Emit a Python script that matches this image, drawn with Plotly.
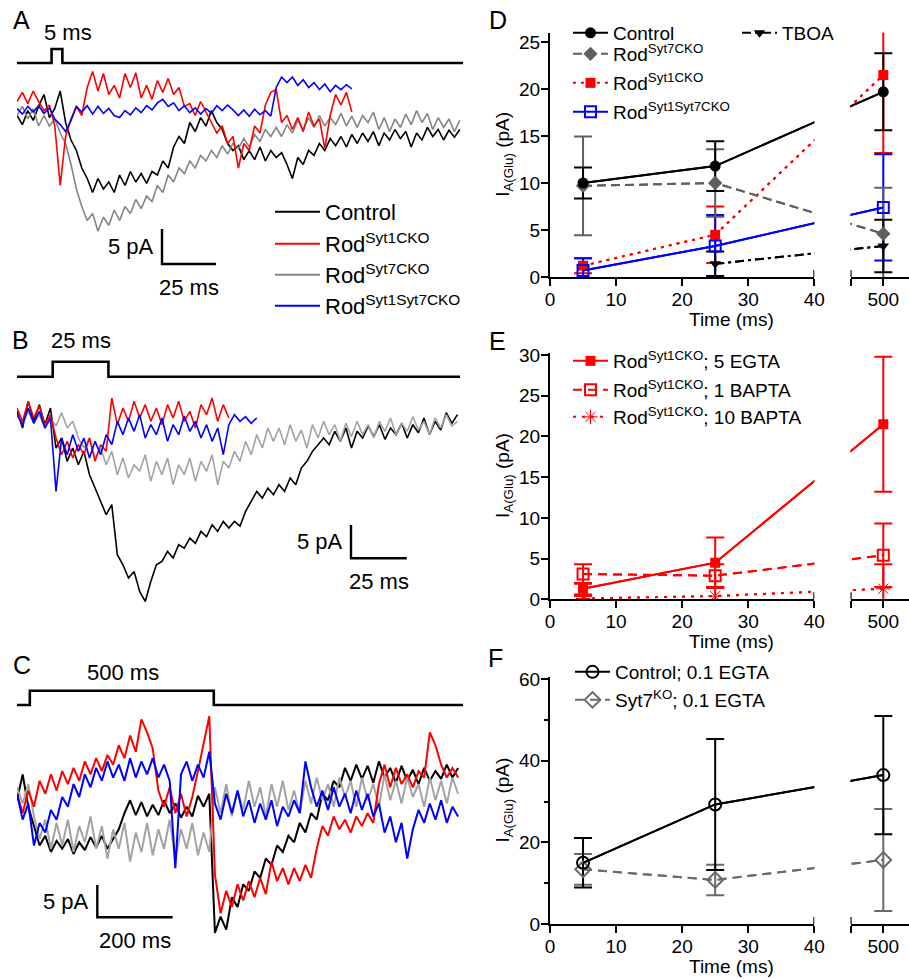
import plotly.graph_objects as go

W, H = 909, 979
FONT = "Liberation Sans, Arial, Helvetica, sans-serif"


def vals(s):
    return [float(v) for v in s.split()]


# ---------------- Panel A: 5 ms step, currents (pA) sampled every 2.5 ms
A_DT = 2.5
A_control = vals("""
-0.5 -1.8 0.2 -1.2 0.8 2.5 -0.8 0.5 3.0 -1.5 -4.0 -5.5 -8.0 -9.5 -11.5 -9.5 -11.0 -10.0 -11.5 -9.0
-10.5 -8.5 -10.0 -8.8 -10.2 -8.5 -9.0 -7.0 -8.0 -5.0 -3.5 -4.5 -1.5 -2.8 -0.8 -2.0 0.2 -1.5 -2.5 -4.5
-5.5 -4.8 -6.8 -5.5 -6.8 -5.0 -7.0 -5.5 -6.5 -5.8 -7.5 -9.5 -6.5 -7.5 -5.5 -6.2 -4.5 -5.5 -3.8 -4.8
-3.5 -5.0 -3.2 -4.5 -3.0 -4.2 -2.8 -4.8 -3.0 -4.0 -2.5 -3.8 -2.8 -5.0 -3.0 -4.0 -2.2 -3.5 -2.5 -4.0
-2.6 -3.6 -2.5
""")
A_syt7 = vals("""
-0.5 0.8 -1.0 0.5 -2.0 -0.5 -2.0 -1.0 -3.0 -4.5 -7.5 -11.0 -13.5 -15.5 -14.5 -17.0 -15.0 -16.2 -14.0 -15.5
-13.5 -14.5 -12.5 -13.8 -12.0 -12.8 -10.5 -11.5 -9.0 -10.0 -8.0 -8.8 -7.0 -8.0 -6.2 -7.0 -5.5 -6.5 -4.8 -6.0
-4.5 -5.2 -3.8 -5.0 -3.2 -4.2 -2.5 -3.5 -2.2 -3.5 -1.8 -3.0 -1.2 -2.5 -0.8 -2.2 -0.5 -2.0 -0.8 -1.8
-0.2 -2.0 -0.6 -2.2 -0.5 -1.5 0.0 -2.5 -0.8 -2.8 -1.0 -2.2 -0.3 -1.8 0.2 -1.5 -0.2 -2.5 -0.8 -2.2
-1.0 -2.8 -1.2
""")
A_syt1 = vals("""
1.5 2.8 1.2 3.0 1.5 0.2 1.0 -2.0 -10.5 -3.5 -1.0 0.8 -0.5 3.5 5.8 3.0 5.5 2.5 3.8 2.0
5.5 3.5 5.6 2.0 3.8 1.8 4.5 2.8 4.8 2.5 3.5 0.8 1.2 -0.5 1.5 0.0 -1.5 -3.0 -2.0 -4.5
-3.5 -8.0 -4.5 -5.5 -2.0 -3.0 1.0 2.8 3.2 -1.5 -0.5 -2.5 -0.8 -2.8 0.0 -2.0 -1.0 -5.2 -0.5 2.5
1.0 2.8 0.0
""")
A_syt17 = vals("""
0.5 -0.3 0.8 0.0 0.9 -0.2 0.6 -1.0 -1.8 -2.8 -1.2 0.8 0.0 0.9 -0.3 0.8 -0.2 0.5 -0.5 -0.8
0.2 -0.4 0.6 -0.1 0.9 0.3 1.3 1.8 0.8 1.3 0.2 0.9 -0.1 0.6 -0.3 0.5 -0.2 0.9 0.2 1.0
0.3 -0.5 0.3 -0.6 0.4 -0.4 0.2 -0.6 3.5 5.0 4.2 5.0 3.8 4.6 3.5 4.2 3.2 4.0 2.9 3.8
3.2 3.9 3.3
""")

# ---------------- Panel B: 25 ms step, sampled every 2.5 ms
B_DT = 2.5
B_control = vals("""
1.0 -1.5 2.5 -0.5 2.0 -1.0 1.5 -4.5 -3.0 -6.5 -4.5 -7.0 -5.0 -8.5 -10.5 -12.5 -14.5 -13.0 -20.5 -22.0
-24.0 -23.0 -26.0 -27.5 -24.5 -22.0 -21.5 -20.0 -21.0 -19.0 -19.5 -18.0 -18.8 -17.0 -17.8 -16.0 -17.0 -15.5 -16.5 -15.5
-16.2 -14.0 -12.5 -11.0 -12.0 -10.5 -11.5 -10.0 -11.0 -9.0 -10.0 -7.5 -6.5 -5.0 -4.0 -3.0 -4.0 -2.0 -3.5 -1.5
-4.5 -2.0 -3.0 -1.2 -2.8 -1.0 -3.2 -1.5 -2.5 -0.8 -3.0 -1.0 -2.2 0.0 -2.5 -0.5 -1.8 0.8 -0.8 0.5
""")
B_syt7 = vals("""
0.5 -1.0 1.0 -0.8 0.5 -1.5 0.0 -1.2 0.8 -1.5 -0.5 -3.0 -4.5 -3.0 -6.0 -4.5 -7.0 -5.0 -8.5 -6.0
-9.0 -7.0 -8.0 -5.5 -9.5 -6.5 -8.5 -6.0 -10.0 -7.0 -8.5 -6.0 -9.5 -6.5 -8.0 -5.5 -10.0 -6.5 -7.5 -5.0
-6.5 -3.5 -5.5 -2.5 -4.5 -1.5 -3.5 -1.5 -4.0 -1.0 -3.5 -1.8 -4.5 -1.0 -3.0 -0.5 -2.5 -1.0 -3.5 -0.8
-2.8 -0.5 -2.5 -1.0 -3.0 -0.5 -2.0 0.0 -2.5 -0.8 -2.0 0.2 -1.8 -0.5 -2.5 0.0 -1.5 0.5 -1.2 -0.5
""")
B_syt1 = vals("""
1.5 -0.5 2.5 0.0 1.8 -1.0 0.5 -3.0 -5.5 -3.5 -6.0 -4.0 -5.5 -3.0 -6.5 -4.0 -5.0 3.0 -1.0 1.5
-0.5 2.5 0.0 2.0 -0.5 1.5 -1.0 2.0 0.0 2.5 -0.5 1.0 -1.5 2.0 0.5 3.0 -0.5 2.0 0.0
""")
B_syt17 = vals("""
0.5 -1.0 1.5 -0.8 1.0 -1.5 0.0 -11.0 -3.0 -5.5 -2.5 -5.0 -3.0 -6.0 -3.5 -5.5 -2.5 -4.0 -0.5 -2.5
0.0 -2.0 0.5 -3.0 -1.0 -2.5 0.0 -3.5 -1.0 -2.5 0.3 -2.0 -0.5 -3.0 -1.0 -3.5 -1.5 -5.5 -1.0 0.5
-0.5 0.2 -0.8 0.0
""")

# ---------------- Panel C: 500 ms step, sampled every 15 ms
C_DT = 15.0
C_control = vals("""
-0.5 3.5 -1.5 -4.5 -7.5 -6.0 -8.5 -6.8 -8.0 -6.5 -8.8 -7.0 -8.2 -6.2 -7.8 -6.0 -8.0 -6.5 -5.0 -2.5
-0.5 -2.8 -0.8 -3.0 -1.2 -2.8 -0.5 -2.5 -1.0 -3.2 -1.5 -3.0 0.2 -1.5 0.5 -21.0 -18.5 -20.5 -15.5 -17.0
-13.5 -14.5 -11.5 -12.5 -9.5 -10.5 -7.5 -8.5 -6.0 -7.0 -4.0 -5.5 -2.5 -3.5 0.5 -0.5 2.5 1.5 4.5 2.5
5.0 2.8 4.8 2.2 5.5 3.0 4.5 2.2 4.8 2.5 4.2 2.0 4.5 2.5 4.0 2.8 5.0 3.0 4.5
""")
C_syt1 = vals("""
0.5 -2.5 1.0 -1.5 2.5 0.5 3.5 1.0 4.0 2.0 4.5 2.5 5.5 3.5 6.0 4.0 6.5 5.0 8.0 6.0
9.5 7.0 12.0 10.0 7.5 1.0 -1.5 1.5 -2.5 0.5 -3.0 0.0 4.0 8.5 12.5 -12.0 -18.0 -14.5 -17.0 -13.5
-16.0 -13.0 -15.5 -12.5 -15.0 -10.0 -13.0 -11.0 -13.5 -11.0 -13.0 -10.5 -12.5 -8.0 -4.5 -6.0 -3.0 -5.0 -3.5 -5.5
-3.0 -4.5 -2.5 -4.0 2.0 5.0 1.5 4.5 2.0 3.5 1.5 4.0 3.0 10.0 8.0 5.0 3.0 4.5 3.0
""")
C_syt17 = vals("""
0.5 -3.5 -1.0 -7.5 -4.0 -5.5 -2.0 -3.5 0.0 -1.5 2.0 0.0 3.5 1.5 4.5 2.5 5.5 3.0 5.0 2.5
6.0 3.0 5.5 3.5 6.0 3.0 5.0 2.5 -11.0 3.5 5.5 2.5 5.0 3.0 7.0 -1.0 -3.5 0.5 -2.5 1.0
-3.0 -0.5 -4.0 -1.0 -3.5 -0.5 -4.5 -1.5 -3.0 -0.5 -2.5 5.5 1.5 -1.5 1.0 -2.0 1.5 -1.5 0.5 -2.5
1.0 -2.0 0.5 -3.0 -1.0 -5.5 -3.0 -7.0 -4.0 -9.5 -5.0 -2.0 -4.0 -1.0 -3.5 -0.5 -4.0 -1.5 -3.0
""")
C_syt7 = vals("""
1.5 -1.0 2.0 -3.0 -6.5 -3.5 -8.0 -4.0 -7.5 -3.5 -8.5 -4.5 -7.0 -3.0 -8.0 -4.5 -9.5 -5.0 -8.0 -4.0
-10.0 -5.5 -8.5 -4.0 -9.0 -5.0 -8.0 -3.5 -9.5 -5.0 -8.0 -4.0 -9.0 -5.5 -8.5 1.5 -2.5 2.0 -3.0 1.0
-2.0 2.5 -1.5 1.5 -3.0 2.0 -1.5 2.5 -2.0 1.0 -2.5 2.5 -1.0 3.0 -0.5 2.0 -1.5 3.0 0.0 2.5
-1.5 3.0 -0.5 2.0 -1.5 3.5 -0.5 2.5 -1.0 3.0 0.0 2.0 -1.5 3.0 -0.5 2.5 -1.0 3.0 0.5
""")

# stimulus steps: (onset ms, duration ms), labels
STIM = {"A": (16, 5, "5 ms"), "B": (16, 25, "25 ms"), "C": (34, 488, "500 ms")}
# scale bars (ms, pA)
SCALE = {"A": (25, 5, "25 ms", "5 pA"), "B": (25, 5, "25 ms", "5 pA"), "C": (200, 5, "200 ms", "5 pA")}

# ---------------- Panel D: amplitude vs step duration
D_time = [5, 25, 500]
D_control = [10.0, 11.8, 19.7]
D_control_err = [1.65, 2.65, 4.1]
D_syt7 = [9.7, 10.0, 4.6]
D_syt7_err = [5.25, 3.6, 4.9]
D_syt1 = [1.2, 4.5, 21.5]
D_syt1_err = [0.8, 3.0, 8.3]
D_syt17 = [0.7, 3.3, 7.4]
D_syt17_err = [1.3, 3.3, 5.65]
D_tboa_time = [25, 500]
D_tboa = [1.4, 3.3]
D_tboa_err = [1.3, 2.8]

# ---------------- Panel E
E_time = [5, 25, 500]
E_egta5 = [1.3, 4.5, 21.5]
E_egta5_err = [0.7, 3.1, 8.3]
E_bapta1 = [3.1, 2.9, 5.4]
E_bapta1_err = [1.2, 1.4, 3.9]
E_bapta10 = [0.1, 0.4, 1.3]
E_bapta10_err = [0.3, 1.1, 3.0]

# ---------------- Panel F
F_time = [5, 25, 500]
F_control = [15.0, 29.3, 36.5]
F_control_err = [6.05, 16.05, 14.5]
F_syt7 = [13.4, 10.8, 15.7]
F_syt7_err = [3.75, 3.75, 12.5]

# ================= layout helpers =================
def px_x(x):
    return x / W


def px_y(y):
    return 1 - y / H


BLACK, RED, BLUE = "#000000", "#ff0000", "#0000ff"
GRAY_A, GRAY_BC = "#858585", "#a3a3a3"

# trace panels: pixel boxes and scales
TP = {
    "A": dict(n="", left=17, right=463, top=30, bottom=272, zero=112, pms=2.16, ppa=7.0,
              stim_y=63, stim_h=14, bar=(162, 264), lw=1.6),
    "B": dict(n="2", left=17, right=460, top=330, bottom=622, zero=418, pms=2.23, ppa=6.67,
              stim_y=376.7, stim_h=15, bar=(351, 558.3), lw=1.6),
    "C": dict(n="3", left=17, right=463, top=660, bottom=975, zero=797, pms=0.377, ppa=6.47,
              stim_y=705, stim_h=14.3, bar=(97.3, 917.3), lw=2.0),
}

fig = go.Figure()
layout = dict()
shapes = []
annotations = []
legends = {}


def new_legend(x_px, y_px, size, itemwidth):
    idx = len(legends) + 1
    key = "legend" if idx == 1 else f"legend{idx}"
    legends[key] = dict(x=px_x(x_px), y=px_y(y_px), xanchor="left", yanchor="middle",
                        bgcolor="rgba(0,0,0,0)", borderwidth=0, tracegroupgap=0,
                        font=dict(family=FONT, size=size, color="black"), itemwidth=itemwidth)
    return key


trace_sets = {
    "A": (A_DT, [(A_control, BLACK), (A_syt7, GRAY_A), (A_syt1, RED), (A_syt17, BLUE)]),
    "B": (B_DT, [(B_control, BLACK), (B_syt7, GRAY_BC), (B_syt1, RED), (B_syt17, BLUE)]),
    "C": (C_DT, [(C_control, BLACK), (C_syt7, GRAY_BC), (C_syt1, RED), (C_syt17, BLUE)]),
}

for key, p in TP.items():
    xa, ya = "x" + p["n"], "y" + p["n"]
    xr = [0, (p["right"] - p["left"]) / p["pms"]]
    yr = [(p["zero"] - p["bottom"]) / p["ppa"], (p["zero"] - p["top"]) / p["ppa"]]
    layout["xaxis" + p["n"]] = dict(domain=[px_x(p["left"]), px_x(p["right"])], range=xr,
                                   visible=False, anchor=ya, fixedrange=True)
    layout["yaxis" + p["n"]] = dict(domain=[px_y(p["bottom"]), px_y(p["top"])], range=yr,
                                   visible=False, anchor=xa, fixedrange=True)
    dt, series = trace_sets[key]
    for v, c in series:
        fig.add_trace(go.Scatter(x=[i * dt for i in range(len(v))], y=v, mode="lines",
                                 line=dict(color=c, width=p["lw"]), xaxis=xa, yaxis=ya,
                                 showlegend=False, hoverinfo="skip"))
    # stimulus
    on, dur, lab = STIM[key]
    base = (p["zero"] - p["stim_y"]) / p["ppa"]
    hi = base + p["stim_h"] / p["ppa"]
    fig.add_trace(go.Scatter(x=[0, on, on, on + dur, on + dur, xr[1]],
                             y=[base, base, hi, hi, base, base], mode="lines",
                             line=dict(color="black", width=2.6), xaxis=xa, yaxis=ya,
                             showlegend=False, hoverinfo="skip"))
    # scale bar
    sx, sy, sxl, syl = SCALE[key]
    bx = (p["bar"][0] - p["left"]) / p["pms"]
    by = (p["zero"] - p["bar"][1]) / p["ppa"]
    shapes.append(dict(type="path", xref=xa, yref=ya,
                       path=f"M{bx},{by + sy} L{bx},{by} L{bx + sx},{by}",
                       line=dict(color="black", width=2.4)))
    annotations.append(dict(x=bx, y=by + sy / 2, xref=xa, yref=ya, text=syl, showarrow=False,
                            xanchor="right", yanchor="middle", xshift=-6,
                            font=dict(family=FONT, size=22, color="black")))
    annotations.append(dict(x=bx + sx / 2, y=by, xref=xa, yref=ya, text=sxl, showarrow=False,
                            xanchor="center", yanchor="middle", yshift=-23,
                            font=dict(family=FONT, size=22, color="black")))

# stim labels / panel letters
for txt, x, y in [("5 ms", 68, 32), ("25 ms", 81, 340), ("500 ms", 123, 672)]:
    annotations.append(dict(x=px_x(x), y=px_y(y), xref="paper", yref="paper", text=txt,
                            showarrow=False, xanchor="center", yanchor="middle",
                            font=dict(family=FONT, size=22, color="black")))
for txt, x, y in [("A", 21, 20), ("B", 20, 340), ("C", 22, 665),
                  ("D", 498, 20), ("E", 497, 341), ("F", 495, 658)]:
    annotations.append(dict(x=px_x(x), y=px_y(y), xref="paper", yref="paper", text=txt,
                            showarrow=False, xanchor="center", yanchor="middle",
                            font=dict(family=FONT, size=25, color="black")))

# legend of traces (A)
for (name, c), ly in zip([("Control", BLACK), ("Rod<sup>Syt1CKO</sup>", RED),
                          ("Rod<sup>Syt7CKO</sup>", GRAY_A), ("Rod<sup>Syt1Syt7CKO</sup>", BLUE)],
                         [212, 244, 275, 306]):
    lg = new_legend(270, ly, 22, 45)
    fig.add_trace(go.Scatter(x=[None], y=[None], mode="lines", line=dict(color=c, width=2),
                             name=name, legend=lg, xaxis="x", yaxis="y", hoverinfo="skip"))

# ================= right panels =================
X0_PX, X40_PX, XR_PX, X500_PX = 550, 814.3, 850.5, 883.3
SC = (X40_PX - X0_PX) / 40.0
XR_D = (XR_PX - X0_PX) / SC
XEND_D = (W - X0_PX) / SC
T500_D = (X500_PX - X0_PX) / SC


def disp(t):
    return t if t <= 40 else T500_D + (t - 500) * 0.01


RP = {
    "D": dict(xl="4", xr="5", y="4", zero=277, pu=9.4, ymax=26, ticks=[0, 5, 10, 15, 20, 25], minor=None),
    "E": dict(xl="6", xr="7", y="5", zero=599.3, pu=8.14, ymax=30.3, ticks=[0, 5, 10, 15, 20, 25, 30], minor=None),
    "F": dict(xl="8", xr="9", y="6", zero=924, pu=4.08, ymax=60.5, ticks=[0, 20, 40, 60], minor=10),
}
tickfont = dict(family=FONT, size=19, color="black")
axis_common = dict(showline=True, linecolor="black", linewidth=2, ticks="outside", ticklen=7,
                   tickwidth=2, tickcolor="black", showgrid=False, zeroline=False,
                   tickfont=tickfont, fixedrange=True)

for key, r in RP.items():
    ya = "y" + r["y"]
    layout["yaxis" + r["y"]] = dict(domain=[px_y(r["zero"]), px_y(r["zero"] - r["ymax"] * r["pu"])],
                                    range=[0, r["ymax"]], anchor="x" + r["xl"], tickvals=r["ticks"],
                                    ticktext=[str(t) for t in r["ticks"]], ticklabelstandoff=-3,
                                    **axis_common)
    if r["minor"]:
        layout["yaxis" + r["y"]]["minor"] = dict(dtick=r["minor"], ticks="outside", ticklen=4,
                                                 tickwidth=2, tickcolor="black", showgrid=False)
    layout["xaxis" + r["xl"]] = dict(domain=[px_x(X0_PX), px_x(X40_PX)], range=[0, 40], anchor=ya,
                                     tickvals=[0, 10, 20, 30, 40], ticktext=["0", "10", "20", "30", "40"],
                                     ticklabelstandoff=-3, **axis_common)
    layout["xaxis" + r["xr"]] = dict(domain=[px_x(XR_PX), 1.0], range=[XR_D, XEND_D], anchor=ya,
                                     tickvals=[XR_D + 0.02, T500_D], ticktext=["", "500"],
                                     ticklabelstandoff=-3, **axis_common)
    cap = 7.0 / r["pu"]
    for xa, xv in [("x" + r["xl"], 40), ("x" + r["xr"], XR_D + 0.02)]:
        shapes.append(dict(type="line", xref=xa, yref=ya, x0=xv, x1=xv, y0=0, y1=cap,
                           line=dict(color="black", width=2)))
    cy = r["zero"] - r["ymax"] * r["pu"] / 2
    annotations.append(dict(x=px_x(504), y=px_y(cy), xref="paper", yref="paper",
                            text="I<sub>A(Glu)</sub> (pA)", textangle=-90, showarrow=False,
                            xanchor="center", yanchor="middle",
                            font=dict(family=FONT, size=19, color="black")))
    annotations.append(dict(x=px_x(731), y=px_y(r["zero"] + 42), xref="paper", yref="paper",
                            text="Time (ms)", showarrow=False, xanchor="center", yanchor="middle",
                            font=dict(family=FONT, size=19, color="black")))


def add_series(panel, t, y, err, color, dash, symbol, msize, name, leg_pos, mline=0):
    r = RP[panel]
    ya = "y" + r["y"]
    xd = [disp(v) for v in t]
    # pass 1: line + error bars on both axis segments
    for xn in (r["xl"], r["xr"]):
        fig.add_trace(go.Scatter(x=xd, y=y, mode="lines", line=dict(color=color, width=2, dash=dash),
                                 error_y=dict(type="data", array=err, color=color, thickness=2, width=9),
                                 xaxis="x" + xn, yaxis=ya, showlegend=False, hoverinfo="skip"))
    return (panel, xd, y, color, dash, symbol, msize, name, leg_pos, mline)


markers_pass = []
markers_pass.append(add_series("D", D_time, D_syt1, D_syt1_err, RED, "3px,5px", "square", 10,
                               "Rod<sup>Syt1CKO</sup>", (568, 83)))
markers_pass.append(add_series("D", D_time, D_syt17, D_syt17_err, BLUE, "solid", "square-open", 11,
                               "Rod<sup>Syt1Syt7CKO</sup>", (568, 112), 2))
markers_pass.append(add_series("D", D_time, D_syt7, D_syt7_err, "#5f5f5f", "9px,5px", "diamond", 11,
                               "Rod<sup>Syt7CKO</sup>", (568, 54)))
markers_pass.append(add_series("D", D_tboa_time, D_tboa, D_tboa_err, BLACK, "9px,4px,3px,4px",
                               "triangle-down", 10, "TBOA", (737, 33)))
markers_pass.append(add_series("D", D_time, D_control, D_control_err, BLACK, "solid", "circle", 11,
                               "Control", (568, 33)))

markers_pass.append(add_series("E", E_time, E_bapta10, E_bapta10_err, RED, "3px,6px", "asterisk-open", 12,
                               "Rod<sup>Syt1CKO</sup>; 10 BAPTA", (568, 417)))
markers_pass.append(add_series("E", E_time, E_bapta1, E_bapta1_err, RED, "9px,6px", "square-open", 11,
                               "Rod<sup>Syt1CKO</sup>; 1 BAPTA", (568, 390), 2))
markers_pass.append(add_series("E", E_time, E_egta5, E_egta5_err, RED, "solid", "square", 10,
                               "Rod<sup>Syt1CKO</sup>; 5 EGTA", (568, 361)))

markers_pass.append(add_series("F", F_time, F_syt7, F_syt7_err, "#6a6a6a", "9px,6px", "diamond-open", 12,
                               "Syt7<sup>KO</sup>; 0.1 EGTA", (570, 700), 2))
markers_pass.append(add_series("F", F_time, F_control, F_control_err, BLACK, "solid", "circle-open", 12,
                               "Control; 0.1 EGTA", (570, 672), 2))

# pass 2: markers on top (legend entries)
for panel, xd, y, color, dash, symbol, msize, name, leg_pos, mline in markers_pass:
    r = RP[panel]
    lg = new_legend(leg_pos[0], leg_pos[1], 19, 35)
    for i, xn in enumerate((r["xl"], r["xr"])):
        fig.add_trace(go.Scatter(x=xd, y=y, mode="lines+markers",
                                 line=dict(color=color, width=2, dash=dash),
                                 marker=dict(symbol=symbol, size=msize, color=color,
                                             line=dict(color=color, width=mline)),
                                 xaxis="x" + xn, yaxis="y" + r["y"], name=name, legend=lg,
                                 showlegend=(i == 0), hoverinfo="skip"))

layout.update(legends)
fig.update_layout(
    width=W, height=H, margin=dict(l=0, r=0, t=0, b=0, pad=0, autoexpand=False),
    paper_bgcolor="white", plot_bgcolor="white",
    font=dict(family=FONT, color="black"),
    shapes=shapes, annotations=annotations, showlegend=True,
    **layout,
)
fig.write_html("out.html", config={"displayModeBar": False, "staticPlot": True},
               post_script="document.body.style.margin='0';document.body.style.padding='0';")
